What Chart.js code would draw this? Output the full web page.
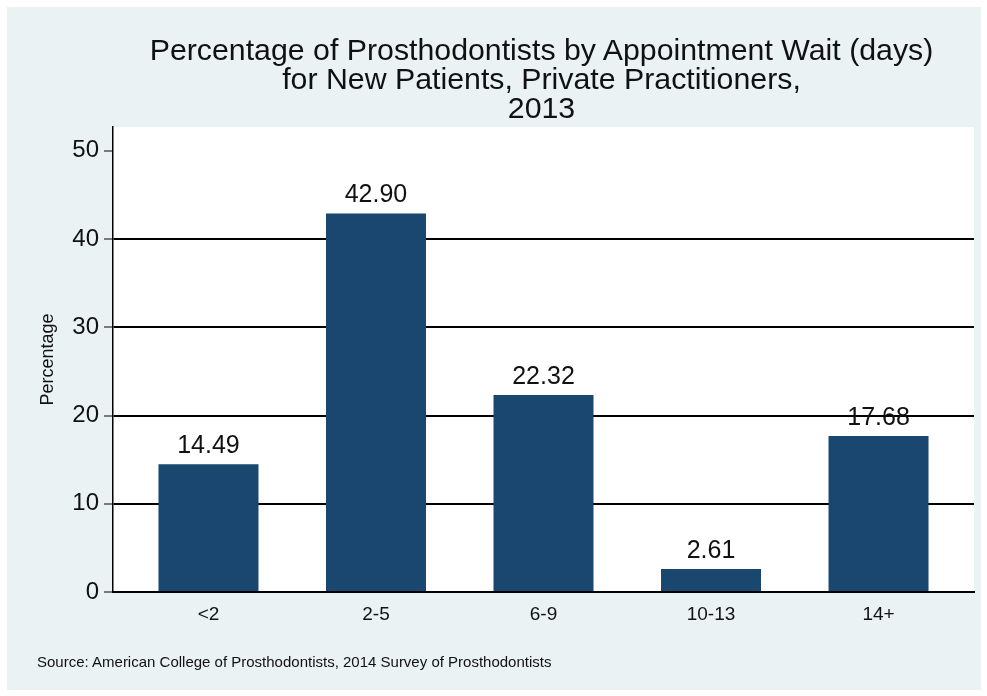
<!DOCTYPE html>
<html>
<head>
<meta charset="utf-8">
<script src="https://cdn.jsdelivr.net/npm/chart.js@4/dist/chart.umd.min.js"></script>
<style>
  html, body { margin: 0; padding: 0; background: #fff; }
  #wrap { position: relative; width: 987px; height: 696px; overflow: hidden; }
  #bg { position: absolute; left: 7px; top: 7px; width: 974px; height: 683px; background: #eaf2f3; }
  #chart { position: absolute; left: 0; top: 0; }
  #title {
    position: absolute; left: 111px; top: 35px; width: 861px;
    font: 30.3px "Liberation Sans", Arial, sans-serif; line-height: 29px;
    text-align: center; color: #111;
  }
  #note {
    position: absolute; left: 37px; top: 653px;
    font: 15px "Liberation Sans", Arial, sans-serif; color: #111;
  }
</style>
</head>
<body>
<div id="wrap">
  <div id="bg"></div>
  <canvas id="chart" width="987" height="696"></canvas>
  <div id="title">Percentage of Prosthodontists by Appointment Wait (days)<br>for New Patients, Private Practitioners,<br>2013</div>
  <div id="note">Source: American College of Prosthodontists, 2014 Survey of Prosthodontists</div>
</div>
<script>
'use strict';

// ── data ─────────────────────────────────────────
const waitCats = ['<2', '2-5', '6-9', '10-13', '14+'];
const pctValues = [14.49, 42.90, 22.32, 2.61, 17.68];
const yTicks = [0, 10, 20, 30, 40, 50];

const FONT = '"Liberation Sans", Arial, sans-serif';

// white plot region behind the bars
const plotBg = {
  id: 'plotBg',
  beforeDraw(chart) {
    const { ctx, chartArea: a } = chart;
    ctx.save();
    ctx.fillStyle = '#ffffff';
    ctx.fillRect(a.left, a.top, a.right - a.left, a.bottom - a.top);
    ctx.restore();
  }
};

// value labels above each bar
const barLabels = {
  id: 'barLabels',
  afterDatasetsDraw(chart) {
    const { ctx } = chart;
    const meta = chart.getDatasetMeta(0);
    ctx.save();
    ctx.font = '25px ' + FONT;
    ctx.fillStyle = '#111';
    ctx.textAlign = 'center';
    ctx.textBaseline = 'alphabetic';
    meta.data.forEach((bar, i) => {
      ctx.fillText(pctValues[i].toFixed(2), bar.x, bar.y - 11);
    });
    ctx.restore();
  }
};

new Chart(document.getElementById('chart'), {
  type: 'bar',
  data: {
    datasets: [{
      data: pctValues.map((v, i) => ({ x: i, y: v })),
      backgroundColor: '#1a476f',
      borderWidth: 0,
      categoryPercentage: 1,
      barPercentage: 0.597
    }]
  },
  options: {
    responsive: false,
    animation: false,
    events: [],
    layout: { padding: { left: 0, top: 127, right: 13, bottom: 0 } },
    plugins: { legend: { display: false }, tooltip: { enabled: false }, title: { display: false } },
    scales: {
      x: {
        type: 'linear',
        offset: false,
        min: -0.57,
        max: 4.57,
        afterBuildTicks: axis => { axis.ticks = waitCats.map((_, i) => ({ value: i })); },
        afterFit: s => { s.height = 104; },
        ticks: {
          autoSkip: false, maxRotation: 0, padding: 11,
          color: '#111', font: { family: FONT, size: 19 },
          callback: v => waitCats[v]
        },
        grid: { display: false, drawTicks: false },
        border: { display: true, color: '#000', width: 2 }
      },
      y: {
        min: 0,
        max: 52.7,
        afterBuildTicks: axis => { axis.ticks = yTicks.map(v => ({ value: v })); },
        afterFit: s => { s.width = 113; },
        ticks: { padding: 5, color: '#111', font: { family: FONT, size: 24 } },
        grid: {
          color: c => (c.tick && (c.tick.value === 0 || c.tick.value === 50)) ? 'rgba(0,0,0,0)' : '#000',
          lineWidth: 2,
          tickColor: '#555',
          tickWidth: 1.5,
          tickLength: 9
        },
        border: { display: true, color: '#000', width: 1.5 },
        title: {
          display: true, text: 'Percentage', color: '#111',
          font: { family: FONT, size: 18 },
          padding: { top: 37, bottom: 0 }
        }
      }
    }
  },
  plugins: [plotBg, barLabels]
});
</script>
</body>
</html>
